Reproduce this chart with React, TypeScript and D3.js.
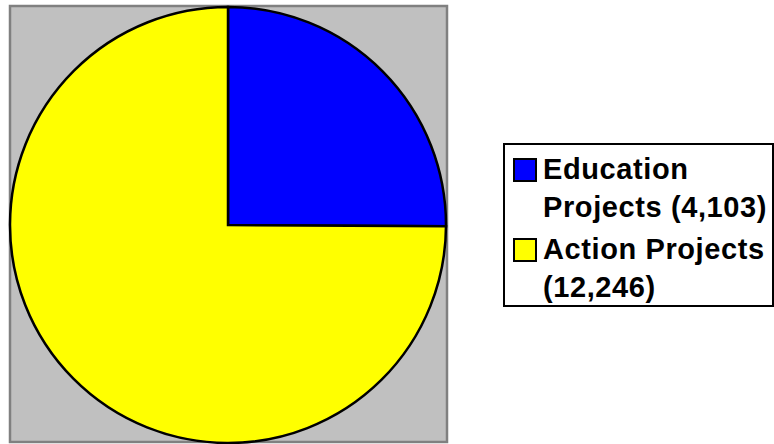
import React from "react";
import * as d3 from "d3";

// chart data
const categories = ["Education Projects", "Action Projects"];
const values = [4103, 12246];
const colors = ["#0000ff", "#ffff00"];
// legend text, wrapped as in the original
const legendLines = [
  ["Education", "Projects (4,103)"],
  ["Action Projects", "(12,246)"],
];

export default function App() {
  const cx = 228;
  const cy = 225;
  const r = 218;

  const pie = d3.pie<number>().sort(null).value((d) => d);
  const arcs = pie(values);
  const arc = d3.arc<d3.PieArcDatum<number>>().innerRadius(0).outerRadius(r);

  const lineH = 38;
  const itemH = 80;

  return (
    <svg
      width={774}
      height={444}
      style={{ position: "absolute", left: 0, top: 0 }}
      fontFamily="'Liberation Sans', Arial, sans-serif"
    >
      <rect x={10} y={6} width={437} height={436} fill="#c0c0c0" stroke="#808080" strokeWidth={2.5} />
      <g transform={`translate(${cx},${cy})`}>
        {arcs.map((a, i) => (
          <path key={categories[i]} d={arc(a) || ""} fill={colors[i]} stroke="#000" strokeWidth={2.5} />
        ))}
      </g>

      <rect x={504} y={144} width={269} height={162} fill="#fff" stroke="#000" strokeWidth={2} />
      {legendLines.map((lines, i) => {
        const base = 179 + i * itemH;
        return (
          <g key={categories[i]}>
            <rect x={514} y={base - 20} width={22} height={22} fill={colors[i]} stroke="#000" strokeWidth={2} />
            {lines.map((t, j) => (
              <text
                key={t}
                x={543}
                y={base + j * lineH}
                fontSize={29}
                fontWeight="bold"
                letterSpacing={0.6}
                fill="#000"
              >
                {t}
              </text>
            ))}
          </g>
        );
      })}
    </svg>
  );
}
